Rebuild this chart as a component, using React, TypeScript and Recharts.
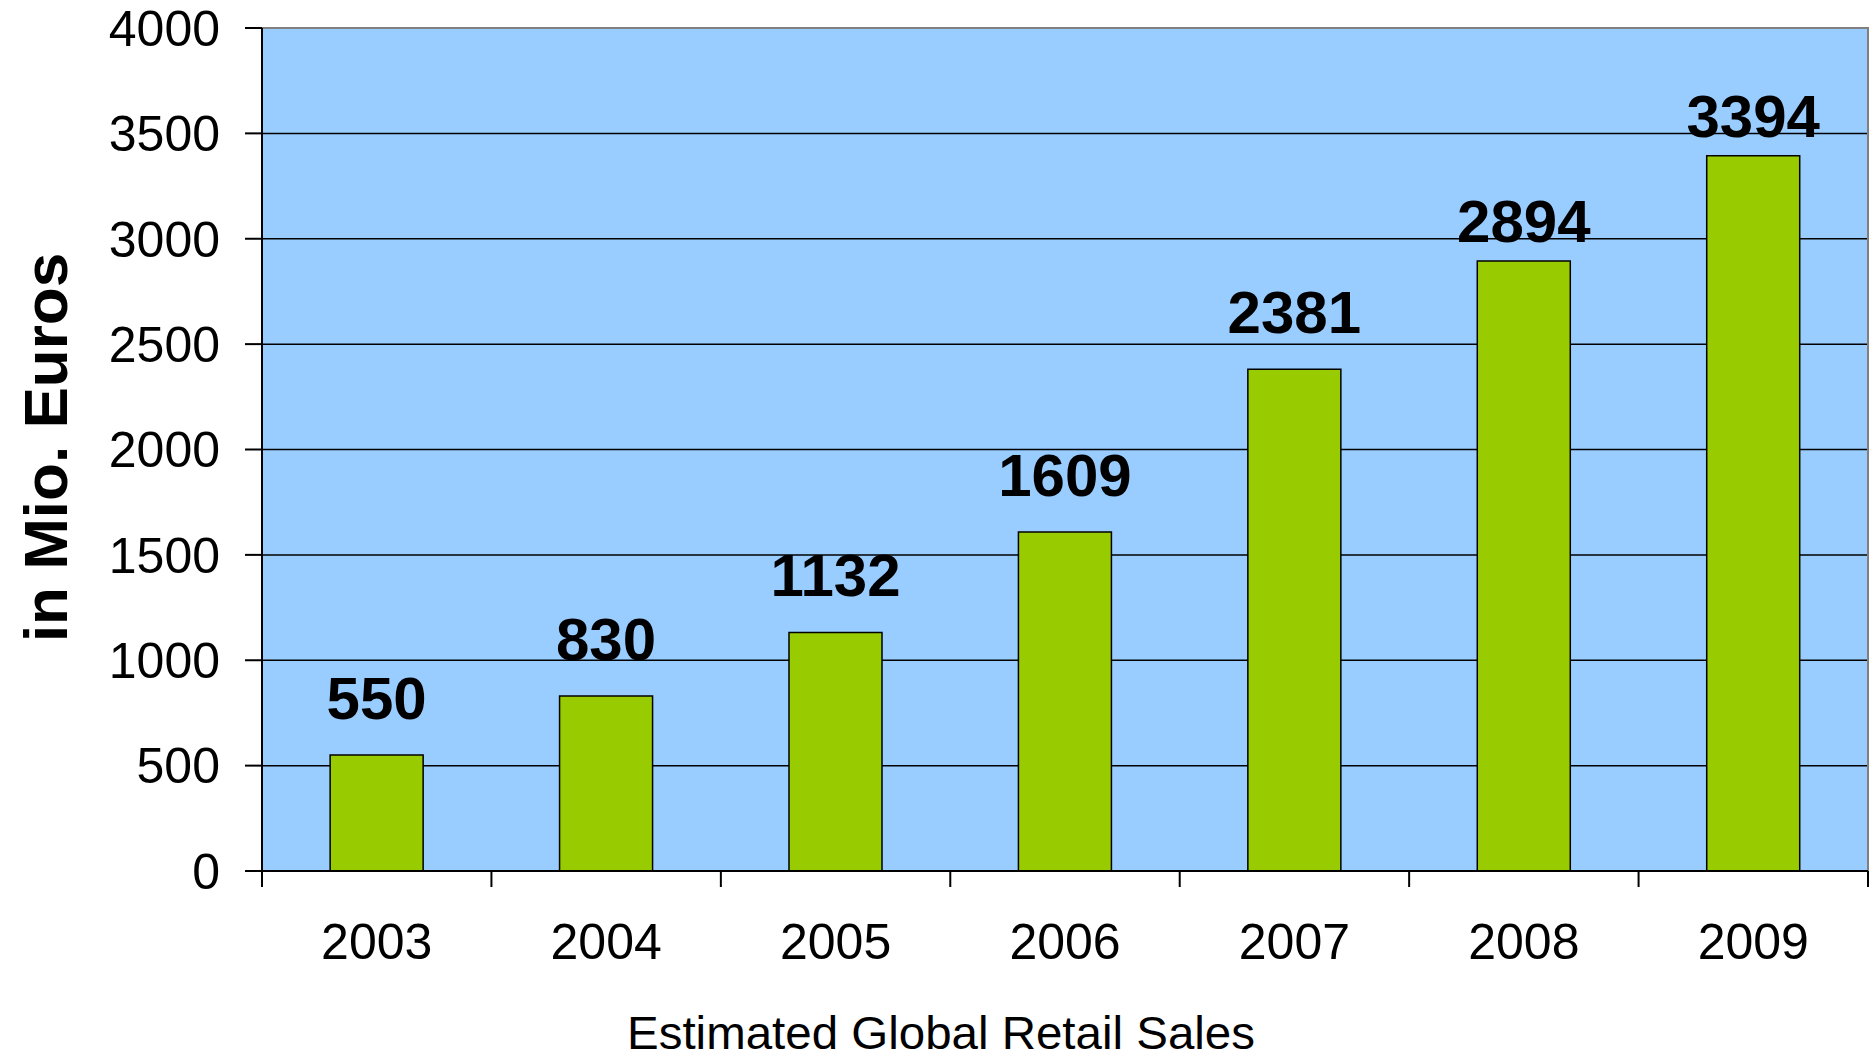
import React from 'react';
import { BarChart, Bar, XAxis, YAxis, CartesianGrid, ReferenceArea, LabelList } from 'recharts';

const years = ['2003', '2004', '2005', '2006', '2007', '2008', '2009'];
const sales = [550, 830, 1132, 1609, 2381, 2894, 3394];
const yTicks = [0, 500, 1000, 1500, 2000, 2500, 3000, 3500, 4000];

const data = years.map((y, i) => ({ year: y, sales: sales[i] }));

const FONT = '"Liberation Sans", Arial, Helvetica, sans-serif';

const XTick = (props: any) => {
  const { x, y, payload, index, width, visibleTicksCount } = props;
  const band = width / visibleTicksCount;
  return (
    <g>
      <line x1={x - band / 2} x2={x - band / 2} y1={y} y2={y + 16} stroke="#000" strokeWidth={2} />
      {index === visibleTicksCount - 1 && (
        <line x1={x + band / 2} x2={x + band / 2} y1={y} y2={y + 16} stroke="#000" strokeWidth={2} />
      )}
      <text x={x} y={y + 88} textAnchor="middle" fontSize={50} fontFamily={FONT} fill="#000">
        {payload.value}
      </text>
    </g>
  );
};

const BarValue = (props: any) => {
  const { x, y, width, value, index } = props;
  const off = index >= 5 ? 19 : 36;
  return (
    <text
      x={x + width / 2}
      y={y - off}
      textAnchor="middle"
      fontSize={60}
      fontWeight="bold"
      fontFamily={FONT}
      fill="#000"
    >
      {value}
    </text>
  );
};

const YTitle = (props: any) => {
  const { viewBox } = props;
  const cy = viewBox.y + viewBox.height / 2 - 2;
  const cx = 67;
  return (
    <text
      x={cx}
      y={cy}
      transform={`rotate(-90, ${cx}, ${cy})`}
      textAnchor="middle"
      fontSize={62}
      fontWeight="bold"
      fontFamily={FONT}
      fill="#000"
    >
      in Mio. Euros
    </text>
  );
};

const XTitle = () => (
  <text
    x={627}
    y={1049}
    fontSize={47}
    fontFamily={FONT}
    fill="#000"
    textLength={628}
    lengthAdjust="spacingAndGlyphs"
  >
    Estimated Global Retail Sales
  </text>
);

export default function App() {
  return (
    <div style={{ width: 1876, height: 1054, background: '#fff' }}>
      <style>{'body{margin:0;}'}</style>
      <BarChart
        width={1876}
        height={1054}
        data={data}
        margin={{ top: 28, right: 8, bottom: 0, left: 0 }}
        barCategoryGap="29.7%"
      >
        <CartesianGrid vertical={false} stroke="#000" strokeWidth={1.5} fill="#99CCFF" fillOpacity={1} />
        <ReferenceArea y1={0} y2={4000} stroke="#808080" strokeWidth={2} fill="none" fillOpacity={0} ifOverflow="visible" />
        <XAxis
          dataKey="year"
          height={183}
          tickLine={false}
          tickSize={0}
          tickMargin={0}
          axisLine={{ stroke: '#000', strokeWidth: 2 }}
          tick={<XTick />}
          interval={0}
          label={<XTitle />}
        />
        <YAxis
          width={262}
          domain={[0, 4000]}
          ticks={yTicks}
          interval={0}
          tickSize={17}
          tickMargin={25}
          tickLine={{ stroke: '#000', strokeWidth: 2 }}
          axisLine={{ stroke: '#000', strokeWidth: 2 }}
          tick={{ fontSize: 50, fill: '#000', fontFamily: FONT }}
          label={<YTitle />}
        />
        <Bar dataKey="sales" fill="#99CC00" stroke="#000" strokeWidth={1.5} isAnimationActive={false}>
          <LabelList dataKey="sales" content={<BarValue />} />
        </Bar>
      </BarChart>
    </div>
  );
}
